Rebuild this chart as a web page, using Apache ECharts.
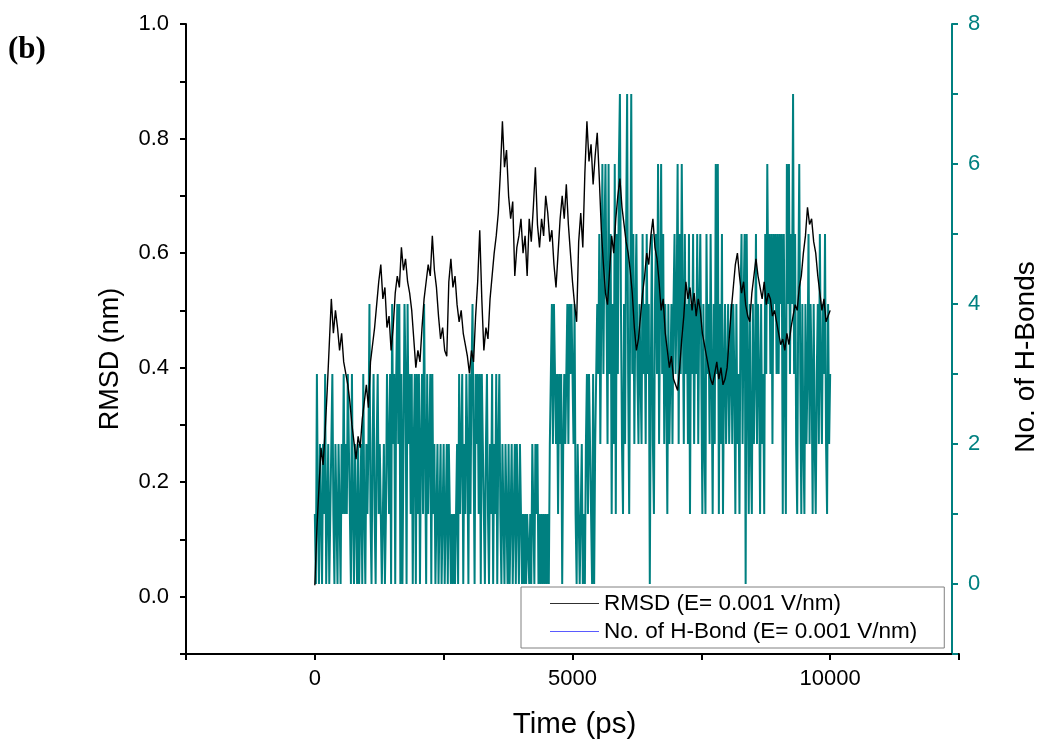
<!DOCTYPE html>
<html><head><meta charset="utf-8">
<script src="https://cdn.jsdelivr.net/npm/echarts@6/dist/echarts.min.js"></script>
<style>html,body{margin:0;padding:0;background:#fff}#c{width:1049px;height:745px}</style>
</head><body><div id="c"></div>
<script>
// RMSD (nm), one value every 40 ps from 0 to 10000 ps
const rmsdStepPs = 40;
const rmsdValues = [
  0.02,0.12,0.19,0.26,0.23,0.29,0.36,0.44,0.52,0.46,0.50,0.47,0.43,0.46,0.41,0.39,0.37,0.34,0.30,0.27,0.24,0.28,0.26,0.31,0.34,
  0.37,0.33,0.41,0.44,0.47,0.51,0.55,0.58,0.52,0.54,0.47,0.49,0.43,0.47,0.53,0.56,0.54,0.61,0.57,0.59,0.55,0.53,0.50,0.45,0.40,
  0.43,0.41,0.47,0.52,0.55,0.58,0.56,0.63,0.57,0.54,0.49,0.45,0.47,0.43,0.42,0.55,0.59,0.54,0.56,0.51,0.48,0.50,0.46,0.44,0.42,
  0.39,0.43,0.41,0.49,0.55,0.64,0.52,0.43,0.47,0.45,0.52,0.56,0.60,0.63,0.67,0.74,0.83,0.75,0.78,0.70,0.66,0.69,0.56,0.61,0.63,
  0.66,0.60,0.63,0.56,0.66,0.62,0.68,0.75,0.65,0.61,0.66,0.63,0.70,0.67,0.62,0.64,0.58,0.54,0.60,0.66,0.70,0.66,0.72,0.65,0.60,
  0.55,0.51,0.48,0.62,0.67,0.61,0.74,0.83,0.76,0.79,0.72,0.77,0.81,0.73,0.64,0.58,0.53,0.51,0.57,0.63,0.60,0.66,0.70,0.73,0.68,
  0.65,0.62,0.60,0.57,0.53,0.47,0.43,0.45,0.49,0.53,0.56,0.60,0.58,0.63,0.66,0.61,0.59,0.55,0.50,0.52,0.46,0.43,0.40,0.42,0.38,
  0.37,0.36,0.40,0.45,0.49,0.55,0.52,0.54,0.50,0.53,0.49,0.52,0.50,0.46,0.44,0.42,0.40,0.38,0.37,0.39,0.41,0.38,0.40,0.37,0.38,
  0.40,0.45,0.50,0.54,0.58,0.60,0.56,0.53,0.55,0.51,0.49,0.48,0.53,0.56,0.59,0.56,0.54,0.52,0.55,0.51,0.53,0.52,0.49,0.50,0.48,
  0.46,0.44,0.45,0.43,0.46,0.44,0.47,0.49,0.51,0.50,0.54,0.56,0.60,0.63,0.68,0.65,0.66,0.62,0.60,0.56,0.53,0.50,0.52,0.48,0.49,0.50
];
// Number of H-bonds, one digit every 20 ps; each chunk covers 500 ps
const hbondStepPs = 20;
const hbondChunks = [
  "1031021021301201231021021",
  "0213121321031021020120310",
  "2124102310231210120132130",
  "4230342403024304231302303",
  "1302314203123031201201201",
  "2012021010101203123021320",
  "3134203231303210231021302",
  "1302310210210201201202102",
  "1010101101021021201010101",
  "0102342432313230232342434",
  "3241021012010231321030234",
  "3524635642635142615367421",
  "4257314735245324325342534",
  "0352145362463524314234245",
  "3462536425342514352435245",
  "3142153425314263614251342",
  "3423424314231452450531421",
  "4235243142315364535254535",
  "3545153164635473521463142",
  "1423524314213425324352142",
  "3"
];
const xLabelValues = [0, 5000, 10000];
const leftLabelValues = ['0.0','0.2','0.4','0.6','0.8','1.0'];
const rightLabelValues = ['0','2','4','6','8'];
const seriesNames = ['RMSD (E= 0.001 V/nm)', 'No. of H-Bond (E= 0.001 V/nm)'];

const rmsdData = rmsdValues.map((v, i) => [i * rmsdStepPs, v]);
const hbondData = hbondChunks.join('').split('').map((d, i) => [i * hbondStepPs, Number(d)]);

const FONT = '"Liberation Sans", Arial, sans-serif';
const TEAL = '#008080';
const LEG_RMSD = '#303030';
const LEG_HB = '#5a5aff';

const chart = echarts.init(document.getElementById('c'), null, {renderer: 'canvas'});
chart.setOption({
  animation: false,
  backgroundColor: '#ffffff',
  grid: {left: 186, right: 90, top: 24, bottom: 91, containLabel: false},
  graphic: [{
    type: 'text', left: 8, top: 34,
    style: {text: '(b)', font: 'bold 31px "Liberation Serif", "Times New Roman", serif', fill: '#000'}
  }],
  legend: {
    orient: 'vertical', left: 521, top: 587,
    icon: 'rect', itemWidth: 49, itemHeight: 1, itemGap: 5,
    padding: [5, 27, 5, 29],
    borderColor: '#808080', borderWidth: 1,
    selectedMode: false,
    textStyle: {fontSize: 22.5, color: '#000', fontFamily: FONT},
    data: [
      {name: seriesNames[0], itemStyle: {color: LEG_RMSD}, lineStyle: {color: LEG_RMSD, width: 1}},
      {name: seriesNames[1], itemStyle: {color: LEG_HB}, lineStyle: {color: LEG_HB, width: 1}}
    ]
  },
  xAxis: {
    type: 'value', min: -2500, max: 12500, interval: 2500,
    name: 'Time (ps)', nameLocation: 'middle', nameGap: 56,
    nameTextStyle: {fontSize: 29.5, color: '#000', fontFamily: FONT, padding: [0, 0, 0, 4]},
    axisLine: {show: true, onZero: false, lineStyle: {color: '#000', width: 2}},
    axisTick: {show: true, inside: false, length: 6, lineStyle: {color: '#000', width: 2}},
    axisLabel: {fontSize: 22, color: '#000', fontFamily: FONT, margin: 14,
      formatter: v => xLabelValues.includes(v) ? String(v) : ''},
    splitLine: {show: false}
  },
  yAxis: [{
    type: 'value', position: 'left', min: -0.1, max: 1.0, interval: 0.1,
    name: 'RMSD (nm)', nameLocation: 'middle', nameGap: 62, nameRotate: 90,
    nameTextStyle: {fontSize: 27, color: '#000', fontFamily: FONT, padding: [0, 40, 0, 0]},
    axisLine: {show: true, onZero: false, lineStyle: {color: '#000', width: 2}},
    axisTick: {show: true, inside: false, length: 6, lineStyle: {color: '#000', width: 2}},
    axisLabel: {fontSize: 22, color: '#000', fontFamily: FONT, margin: 17,
      formatter: v => { const s = (Math.round(v * 10) / 10).toFixed(1); return leftLabelValues.includes(s) ? s : ''; }},
    splitLine: {show: false}
  }, {
    type: 'value', position: 'right', offset: -7, min: -1, max: 8, interval: 1,
    name: 'No. of H-Bonds', nameLocation: 'middle', nameGap: 60, nameRotate: 90,
    nameTextStyle: {fontSize: 28, color: '#000', fontFamily: FONT, padding: [0, 36, 0, 0]},
    axisLine: {show: true, onZero: false, lineStyle: {color: TEAL, width: 2}},
    axisTick: {show: true, inside: false, length: 6, lineStyle: {color: TEAL, width: 2}},
    axisLabel: {fontSize: 22, color: TEAL, fontFamily: FONT, margin: 16,
      formatter: v => rightLabelValues.includes(String(Math.round(v))) && Math.abs(v - Math.round(v)) < 1e-6 ? String(Math.round(v)) : ''},
    splitLine: {show: false}
  }],
  series: [{
    name: seriesNames[0], type: 'line', yAxisIndex: 0, data: rmsdData,
    symbol: 'none', showSymbol: false, sampling: null, z: 4,
    lineStyle: {color: '#000', width: 1.4}, itemStyle: {color: LEG_RMSD}
  }, {
    name: seriesNames[1], type: 'line', yAxisIndex: 1, data: hbondData,
    symbol: 'none', showSymbol: false, z: 3,
    lineStyle: {color: TEAL, width: 2}, itemStyle: {color: LEG_HB}
  }]
});
</script></body></html>
